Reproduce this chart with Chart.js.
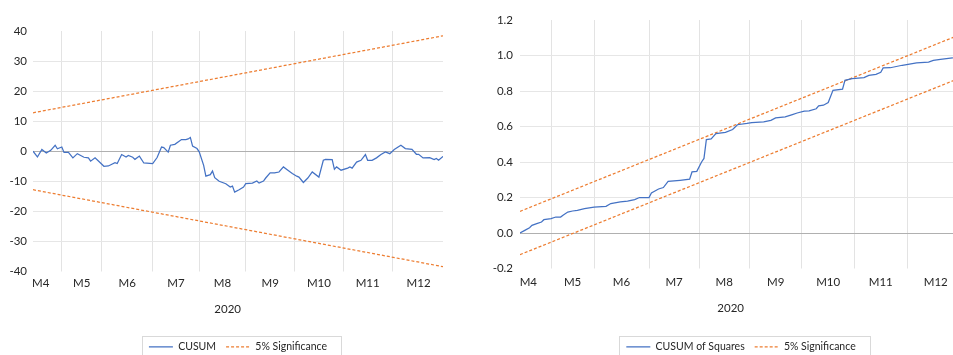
<!DOCTYPE html>
<html>
<head>
<meta charset="utf-8">
<script src="https://cdn.jsdelivr.net/npm/chart.js@4"></script>
<style>
  html, body { margin: 0; padding: 0; background: #fff; overflow: hidden; }
  body { width: 953px; height: 355px; position: relative; }
  .box { position: absolute; top: 0; height: 362px; }
  #left { left: 0; width: 476px; }
  #right { left: 470px; width: 542px; }
</style>
</head>
<body>
<div class="box" id="left"><canvas id="cusum"></canvas></div>
<div class="box" id="right"><canvas id="cusumsq"></canvas></div>
<script>
// x axis: observation number, months by first observation
const months = ['M4', 'M5', 'M6', 'M7', 'M8', 'M9', 'M10', 'M11', 'M12'];
const monthStart = [-6, 13, 31, 54, 75, 96, 118, 140, 162]; // April starts before the sample
const lastObs = 185;
const yearLabel = '2020';

// CUSUM
const cusumObs = [0, 2, 4, 6, 8, 10, 11, 13, 14, 16, 18, 20, 23, 25, 26, 28, 30, 32, 34, 37, 38, 40, 42, 43, 45, 46, 48, 50, 54, 56,
  58, 59, 61, 62, 64, 67, 69, 70, 71, 72, 74, 75, 77, 78, 80, 81, 82, 84, 87, 89, 90, 91, 93, 95, 96, 99, 101, 102, 104, 105,
  107, 109, 111, 113, 115, 117, 119, 120, 122, 124, 126, 129, 131, 132, 135, 136, 137, 139, 142, 143, 144, 146, 148, 150, 151, 153,
  155, 157, 159, 161, 163, 166, 168, 171, 173, 174, 176, 179, 181, 182, 183, 185];
const cusumVal = [0, -1.9, 0.6, -0.6, 0.3, 2.0, 0.8, 1.4, -0.4, -0.4, -2.2, -0.8, -2.0, -2.2, -3.3, -2.2, -3.6, -5.0, -4.9, -3.8, -4.1, -1.1, -1.9, -1.4, -2.0, -2.7, -1.6, -3.9, -4.1, -2.1,
  1.4, 1.2, -0.3, 2.0, 2.3, 3.9, 3.9, 4.1, 4.6, 1.7, 0.9, -0.2, -4.7, -8.3, -7.8, -6.6, -8.8, -10.0, -10.8, -11.9, -11.6, -13.6, -12.8, -11.9, -10.8, -10.6, -9.9, -10.6, -9.9, -8.9,
  -7.2, -7.2, -6.9, -5.2, -6.3, -7.4, -8.3, -8.6, -10.4, -8.9, -6.9, -8.6, -3.0, -2.7, -2.8, -6.0, -5.2, -6.3, -5.6, -5.2, -5.6, -3.6, -3.0, -1.1, -3.0, -3.0,
  -2.2, -1.1, -0.2, -0.8, 0.6, 2.0, 0.9, 0.6, -1.0, -1.0, -2.2, -2.1, -2.8, -2.4, -3.0, -1.7];
const bandObs = [0, 185];
const cusumUpper = [12.8, 38.4];
const cusumLower = [-12.8, -38.4];

// CUSUM of squares
const sqObs = [0, 2, 4, 5, 7, 9, 10, 13, 15, 17, 18, 20, 22, 24, 27, 31, 36, 38, 42, 45, 48, 50, 54, 55, 58, 60, 62, 67, 71, 72,
  74, 76, 77, 78, 80, 82, 86, 89, 91, 95, 97, 102, 105, 107, 111, 114, 116, 119, 121, 124, 125, 127, 129, 131, 135, 136, 139, 144, 146, 149,
  151, 152, 155, 160, 166, 171, 173, 176, 181, 185];
const sqVal = [0, 0.015, 0.03, 0.043, 0.053, 0.062, 0.075, 0.081, 0.09, 0.09, 0.1, 0.118, 0.124, 0.128, 0.137, 0.146, 0.15, 0.166, 0.175, 0.18, 0.188, 0.2, 0.2, 0.225, 0.248, 0.256, 0.291, 0.297, 0.303, 0.344,
  0.347, 0.40, 0.42, 0.526, 0.53, 0.56, 0.567, 0.583, 0.61, 0.617, 0.622, 0.626, 0.635, 0.648, 0.654, 0.667, 0.676, 0.686, 0.688, 0.70, 0.716, 0.72, 0.735, 0.804, 0.81, 0.86, 0.87, 0.875, 0.888, 0.894,
  0.905, 0.93, 0.931, 0.945, 0.958, 0.963, 0.973, 0.978, 0.986, 1.0];
const sqUpper = [0.122, 1.122];
const sqLower = [-0.122, 0.878];

const BLUE = '#4472C4';
const ORANGE = '#ED7D31';
const TEXT = '#262626';
const FONT = 'Lato, "Open Sans", sans-serif';

const pts = (xs, ys) => xs.map((x, i) => ({ x: x, y: ys[i] }));

const gridAt = monthStart.filter(v => v > 0);
const labelAt = monthStart.map((s, i) => (s + (i < monthStart.length - 1 ? monthStart[i + 1] : lastObs + 1)) / 2);

const legendFrame = {
  id: 'legendFrame',
  afterDraw(chart) {
    const boxes = chart.legend.legendHitBoxes;
    if (!boxes || !boxes.length) return;
    const first = boxes[0], last = boxes[boxes.length - 1];
    const x0 = Math.round(first.left - 7), x1 = Math.round(last.left + last.width + 14);
    const y0 = Math.round(first.top - 6);
    const ctx = chart.ctx;
    ctx.save();
    ctx.strokeStyle = '#d9d9d9';
    ctx.lineWidth = 1;
    ctx.strokeRect(x0 + 0.5, y0 + 0.5, x1 - x0, 40);
    ctx.restore();
  }
};

function makeChart(id, o) {
  new Chart(document.getElementById(id), {
    type: 'line',
    data: {
      datasets: [
        { label: o.name, data: pts(o.obs, o.val), borderColor: BLUE, backgroundColor: BLUE, borderWidth: 1.25 },
        { label: '5% Significance', data: pts(bandObs, o.upper), borderColor: ORANGE, backgroundColor: ORANGE, borderWidth: 1.25, borderDash: [3, 2] },
        { label: 'lower', data: pts(bandObs, o.lower), borderColor: ORANGE, backgroundColor: ORANGE, borderWidth: 1.25, borderDash: [3, 2] }
      ]
    },
    options: {
      responsive: true,
      maintainAspectRatio: false,
      animation: false,
      layout: { padding: { top: o.top, right: o.right, left: 0, bottom: 0 } },
      elements: { point: { radius: 0 }, line: { tension: 0 } },
      plugins: {
        tooltip: { enabled: false },
        legend: {
          position: 'bottom',
          labels: {
            filter: item => item.datasetIndex < 2,
            boxWidth: 24,
            boxHeight: 0,
            padding: 10,
            color: TEXT,
            font: { family: FONT, size: 10.5 }
          }
        }
      },
      scales: {
        x: {
          type: 'linear',
          min: 0,
          max: lastObs,
          afterBuildTicks: s => { s.ticks = labelAt.map(v => ({ value: v })); },
          afterFit: s => { s.height = o.xh; },
          grid: { display: false, drawTicks: false },
          border: { display: false },
          ticks: {
            autoSkip: false, maxRotation: 0, minRotation: 0, padding: o.tickPad,
            color: TEXT, font: { family: FONT, size: 11.5 },
            callback: (v, i) => months[i]
          },
          title: { display: true, text: yearLabel + '       ', color: TEXT, font: { family: FONT, size: 11.5 }, padding: { top: 0, bottom: o.titlePad } }
        },
        xg: {
          type: 'linear',
          position: 'top',
          min: 0,
          max: lastObs,
          afterBuildTicks: s => { s.ticks = gridAt.map(v => ({ value: v })); },
          grid: { color: '#e3e3e3', lineWidth: 1, drawTicks: false },
          border: { display: false },
          ticks: { display: false }
        },
        y: {
          min: o.min,
          max: o.max,
          afterFit: s => { s.width = o.yw; },
          border: { display: false },
          grid: {
            drawTicks: false,
            lineWidth: 1,
            color: c => {
              if (Math.abs(c.tick.value) < 1e-9) return '#b0b0b0';
              if (c.index === 0 || c.index === c.scale.ticks.length - 1) return 'rgba(0,0,0,0)';
              return '#e6e6e6';
            }
          },
          ticks: {
            stepSize: o.step,
            padding: o.yPad,
            color: TEXT,
            font: { family: FONT, size: 11.5 },
            callback: o.fmt
          }
        },
        // empty right axis, same width as the left one, so the legend centres on the plot
        yr: {
          position: 'right',
          afterFit: s => { s.width = o.yw; },
          grid: { display: false, drawTicks: false },
          border: { display: false },
          ticks: { display: false }
        }
      }
    },
    plugins: [legendFrame]
  });
}

makeChart('cusum', {
  name: 'CUSUM', obs: cusumObs, val: cusumVal, upper: cusumUpper, lower: cusumLower,
  min: -40, max: 40, step: 10, fmt: v => String(v),
  top: 31, right: 0, yw: 33, yPad: 6, xh: 60, tickPad: 5, titlePad: 15
});

makeChart('cusumsq', {
  name: 'CUSUM of Squares', obs: sqObs, val: sqVal, upper: sqUpper, lower: sqLower,
  min: -0.2, max: 1.2, step: 0.2, fmt: v => (Math.abs(v) < 1e-9 ? 0 : v).toFixed(1),
  top: 20, right: 0, yw: 50, yPad: 7, xh: 63, tickPad: 7, titlePad: 16
});
</script>
</body>
</html>
